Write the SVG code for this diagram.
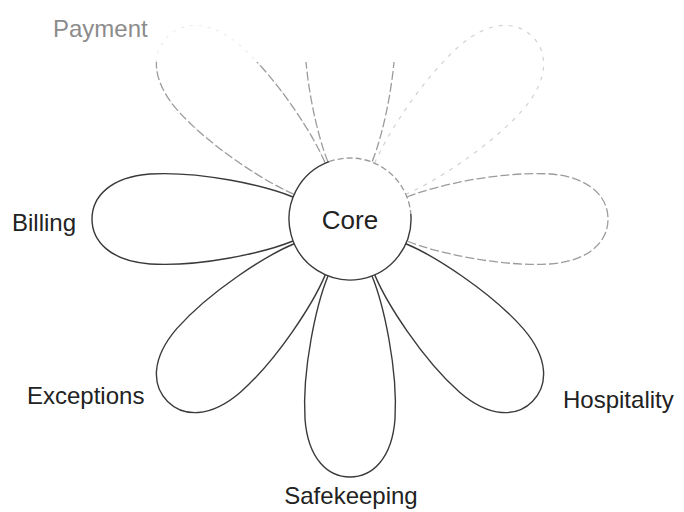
<svg xmlns="http://www.w3.org/2000/svg" xmlns:xlink="http://www.w3.org/1999/xlink" width="684" height="512" viewBox="0 0 684 512">
  <style>
    .petal { fill: none; stroke: #3a3a3a; stroke-width: 1.4; stroke-linejoin: round; }
    .fade1 { fill: none; stroke: #9c9c9c; stroke-width: 1.3; stroke-dasharray: 9 3; }
    .fade2 { fill: none; stroke: #d2d2d2; stroke-width: 1.2; stroke-dasharray: 4 6; }
    .ghost { fill: none; stroke: #ececec; stroke-width: 1.1; stroke-dasharray: 3 6; }
    .core { fill: #ffffff; stroke: none; }
    .ring { fill: none; stroke: #3a3a3a; stroke-width: 1.4; }
    .ringfade { fill: none; stroke: #9a9a9a; stroke-width: 1.3; stroke-dasharray: 6 3; }
    .label { font-family: "Liberation Sans", Arial, sans-serif; font-size: 24px; fill: #222222; }
    .faded { fill: #8c8c8c; }
  </style>
  <defs>
    <path id="petal" d="M 57 -22 C 85 -33.5 150 -48 200 -45 C 240 -42 258 -22 258 0 C 258 22 240 42 200 45 C 150 48 85 33.5 57 22"/>
    <clipPath id="clipLow" clipPathUnits="userSpaceOnUse">
      <rect x="0" y="62" width="684" height="450"/>
    </clipPath>
  </defs>

  <g id="connectors"/>

  <g id="payment">
    <use xlink:href="#petal" class="ghost" transform="translate(350,219) rotate(-135)"/>
    <g clip-path="url(#clipLow)">
      <use xlink:href="#petal" class="fade1" transform="translate(350,219) rotate(-135)"/>
    </g>
    <text class="label faded" x="53" y="37">Payment</text>
  </g>

  <g id="petal-top">
    <g clip-path="url(#clipLow)">
      <use xlink:href="#petal" class="fade1" transform="translate(350,219) rotate(-90)"/>
    </g>
  </g>

  <g id="petal-upper-right">
    <use xlink:href="#petal" class="fade2" transform="translate(350,219) rotate(-45)"/>
  </g>

  <g id="petal-right">
    <use xlink:href="#petal" class="fade1" transform="translate(350,219)"/>
  </g>

  <g id="billing">
    <use xlink:href="#petal" class="petal" transform="translate(350,219) rotate(180)"/>
    <text class="label" x="12" y="231">Billing</text>
  </g>

  <g id="exceptions">
    <use xlink:href="#petal" class="petal" transform="translate(350,219) rotate(135)"/>
    <text class="label" x="27" y="404">Exceptions</text>
  </g>

  <g id="safekeeping">
    <use xlink:href="#petal" class="petal" transform="translate(350,219) rotate(90)"/>
    <text class="label" x="351" y="504" text-anchor="middle">Safekeeping</text>
  </g>

  <g id="hospitality">
    <use xlink:href="#petal" class="petal" transform="translate(350,219) rotate(45)"/>
    <text class="label" x="563" y="408">Hospitality</text>
  </g>

  <g id="core">
    <circle class="core" cx="350" cy="219" r="61"/>
    <path class="ring" d="M 410.8 213.7 A 61 61 0 1 1 329.1 161.7"/>
    <path class="ringfade" d="M 329.1 161.7 A 61 61 0 0 1 410.8 213.7"/>
    <text class="label" x="350" y="229" text-anchor="middle" style="font-size:26px">Core</text>
  </g>
</svg>
